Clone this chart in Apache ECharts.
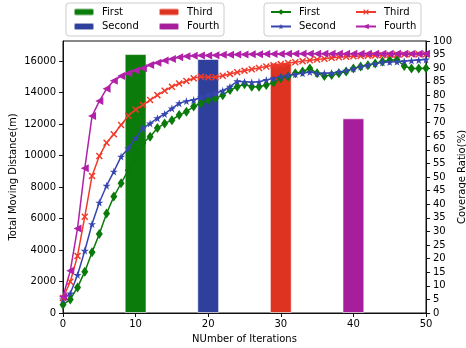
<!DOCTYPE html>
<html>
<head>
<meta charset="utf-8">
<script src="https://cdn.jsdelivr.net/npm/echarts@6/dist/echarts.min.js"></script>
<style>
  html, body { margin: 0; padding: 0; background: #fff; }
  #chart { width: 466px; height: 348px; }
</style>
</head>
<body>
<div id="chart"></div>
<script>
// Iteration index on the x axis
const iterations = [0,1,2,3,4,5,6,7,8,9,10,11,12,13,14,15,16,17,18,19,20,21,22,23,24,25,
  26,27,28,29,30,31,32,33,34,35,36,37,38,39,40,41,42,43,44,45,46,47,48,49,50];

// Coverage ratio (%) per iteration
const coverageFirst = [3.0,5.0,9.4,15.2,22.3,29.0,36.6,42.8,47.7,52.5,58.0,62.5,64.8,68.0,69.7,70.9,
  72.8,74.0,75.9,77.1,78.3,78.9,80.1,82.0,83.2,84.1,83.2,83.2,83.8,84.7,86.3,86.9,88.1,88.8,89.9,
  88.1,87.1,87.5,88.1,88.8,89.9,90.6,91.1,91.7,92.5,92.9,93.1,90.8,89.9,89.9,90.0];
const coverageSecond = [5.0,7.2,14.0,22.9,32.7,40.6,46.8,52.0,57.5,60.5,64.4,67.9,69.7,71.6,73.2,75.2,
  77.1,77.9,78.3,79.3,80.1,80.8,81.7,83.2,85.2,85.0,84.8,85.0,85.7,86.3,86.9,87.4,87.8,88.1,88.6,
  88.1,88.1,88.2,88.6,89.1,89.9,90.5,91.2,91.7,92.1,92.3,92.4,92.6,92.8,93.0,93.2];
const coverageThird = [5.5,11.5,21.0,35.4,50.4,57.7,62.6,65.7,69.1,72.5,74.8,76.5,78.3,80.1,81.7,83.2,
  84.4,85.3,86.3,86.9,86.7,86.7,87.2,87.9,88.5,89.1,89.6,90.1,90.6,91.1,91.5,91.9,92.2,92.6,92.9,
  93.2,93.5,93.8,94.0,94.2,94.4,94.5,94.6,94.7,94.8,94.9,95.0,95.0,95.1,95.1,95.1];
const coverageFourth = [6.0,15.5,31.1,53.2,72.4,77.9,82.4,85.4,87.1,88.1,89.2,90.0,91.2,92.0,92.8,93.4,
  94.0,94.4,94.6,94.7,94.7,94.8,94.9,94.9,95.0,95.0,95.1,95.1,95.2,95.2,95.2,95.3,95.3,95.3,95.3,
  95.3,95.3,95.3,95.3,95.3,95.3,95.3,95.3,95.3,95.3,95.3,95.3,95.3,95.3,95.3,95.3];

// Total moving distance (m), one bar per method
const methodNames = ['First', 'Second', 'Third', 'Fourth'];
const barIterations = [10, 20, 30, 40];
const totalDistance = [16440, 16130, 15890, 12360];

// Tick settings
const xTicks = { min: 0, max: 50, interval: 10 };
const leftTicks = { min: 0, max: 17270, interval: 2000 };
const rightTicks = { min: 0, max: 100, interval: 5 };

const barColors = ['#0b7b0b', '#2f3f9c', '#df3322', '#a61e9c'];
const lineColors = ['#0a7a0a', '#3646b0', '#f03a2a', '#b020a8'];
const FONT = 'DejaVu Sans';

const STAR = 'path://M50,0 L61,35 L98,35 L68,57 L79,91 L50,70 L21,91 L32,57 L2,35 L39,35 Z';
const CROSS = 'path://M0,1.5 L1.5,0 L5,3.5 L8.5,0 L10,1.5 L6.5,5 L10,8.5 L8.5,10 L5,6.5 L1.5,10 L0,8.5 L3.5,5 Z';
const markers = [
  { symbol: 'diamond', size: [7, 10], rotate: 0 },
  { symbol: STAR, size: 8, rotate: 0 },
  { symbol: CROSS, size: 7, rotate: 0 },
  { symbol: 'triangle', size: 8, rotate: 90 }
];
const coverage = [coverageFirst, coverageSecond, coverageThird, coverageFourth];

const barSeries = methodNames.map((m, i) => ({
  name: 'Distance ' + m,
  type: 'bar',
  xAxisIndex: 0,
  yAxisIndex: 0,
  barWidth: 21.8,
  barGap: '-100%',
  itemStyle: { color: barColors[i], borderColor: 'rgba(255,255,255,0.55)', borderWidth: 1 },
  data: [[barIterations[i], totalDistance[i]]],
  z: 1
}));

const lineSeries = methodNames.map((m, i) => ({
  name: 'Coverage ' + m,
  type: 'line',
  xAxisIndex: 0,
  yAxisIndex: 1,
  symbol: markers[i].symbol,
  symbolSize: markers[i].size,
  symbolRotate: markers[i].rotate,
  showAllSymbol: true,
  lineStyle: { color: lineColors[i], width: 1.5 },
  itemStyle: { color: lineColors[i] },
  data: iterations.map((x, k) => [x, coverage[i][k]]),
  z: 3
}));

const legendText = { fontFamily: FONT, fontSize: 10, color: '#000', padding: [0, 0, 0, 3] };
function makeLegend(names, left, top) {
  return {
    orient: 'vertical',
    left: left, top: top,
    padding: 0,
    itemWidth: 20, itemHeight: 7, itemGap: 4.5,
    selectedMode: false,
    textStyle: legendText,
    formatter: n => n.split(' ')[1],
    data: names
  };
}

const chart = echarts.init(document.getElementById('chart'), null, { renderer: 'canvas' });
chart.setOption({
  animation: false,
  backgroundColor: '#fff',
  textStyle: { fontFamily: FONT },
  grid: {
    left: 63, right: 40, top: 41, bottom: 35,
    outerBoundsMode: 'none', containLabel: false,
    show: true, borderColor: '#111', borderWidth: 1, backgroundColor: 'transparent'
  },
  graphic: [
    { type: 'rect', z: 0, shape: { x: 66, y: 3, width: 158, height: 33, r: 3 }, style: { fill: '#fff', stroke: '#cccccc', lineWidth: 1 } },
    { type: 'rect', z: 0, shape: { x: 264, y: 3, width: 157, height: 33, r: 3 }, style: { fill: '#fff', stroke: '#cccccc', lineWidth: 1 } }
  ],
  legend: [
    makeLegend(['Distance First', 'Distance Second'], 73, 7),
    makeLegend(['Distance Third', 'Distance Fourth'], 158, 7),
    makeLegend(['Coverage First', 'Coverage Second'], 270, 7),
    makeLegend(['Coverage Third', 'Coverage Fourth'], 355, 7)
  ],
  xAxis: {
    type: 'value',
    min: xTicks.min, max: xTicks.max, interval: xTicks.interval,
    name: 'NUmber of Iterations',
    nameLocation: 'middle', nameGap: 21, nameMoveOverlap: false,
    nameTextStyle: { fontFamily: FONT, fontSize: 10, color: '#000' },
    axisLine: { show: true, lineStyle: { color: '#111', width: 1 } },
    axisTick: { show: true, inside: false, length: 4, lineStyle: { color: '#111' } },
    axisLabel: { fontFamily: FONT, fontSize: 10, color: '#000', margin: 6 },
    splitLine: { show: false }
  },
  yAxis: [
    {
      type: 'value', position: 'left',
      min: leftTicks.min, max: leftTicks.max, interval: leftTicks.interval,
      name: 'Total Moving Distance(m)',
      nameLocation: 'middle', nameGap: 45, nameRotate: 90, nameMoveOverlap: false,
      nameTextStyle: { fontFamily: FONT, fontSize: 10, color: '#000' },
      axisLine: { show: true, lineStyle: { color: '#111', width: 1 } },
      axisTick: { show: true, inside: false, length: 4, lineStyle: { color: '#111' } },
      axisLabel: { fontFamily: FONT, fontSize: 10, color: '#000', margin: 7, showMaxLabel: false, formatter: v => String(v) },
      splitLine: { show: false }
    },
    {
      type: 'value', position: 'right',
      min: rightTicks.min, max: rightTicks.max, interval: rightTicks.interval,
      name: 'Coverage Ratio(%)',
      nameLocation: 'middle', nameGap: 31, nameRotate: 90, nameMoveOverlap: false,
      nameTextStyle: { fontFamily: FONT, fontSize: 10, color: '#000' },
      axisLine: { show: true, lineStyle: { color: '#111', width: 1 } },
      axisTick: { show: true, inside: false, length: 4, lineStyle: { color: '#111' } },
      axisLabel: { fontFamily: FONT, fontSize: 10, color: '#000', margin: 7 },
      splitLine: { show: false }
    }
  ],
  series: barSeries.concat(lineSeries)
});
</script>
</body>
</html>
